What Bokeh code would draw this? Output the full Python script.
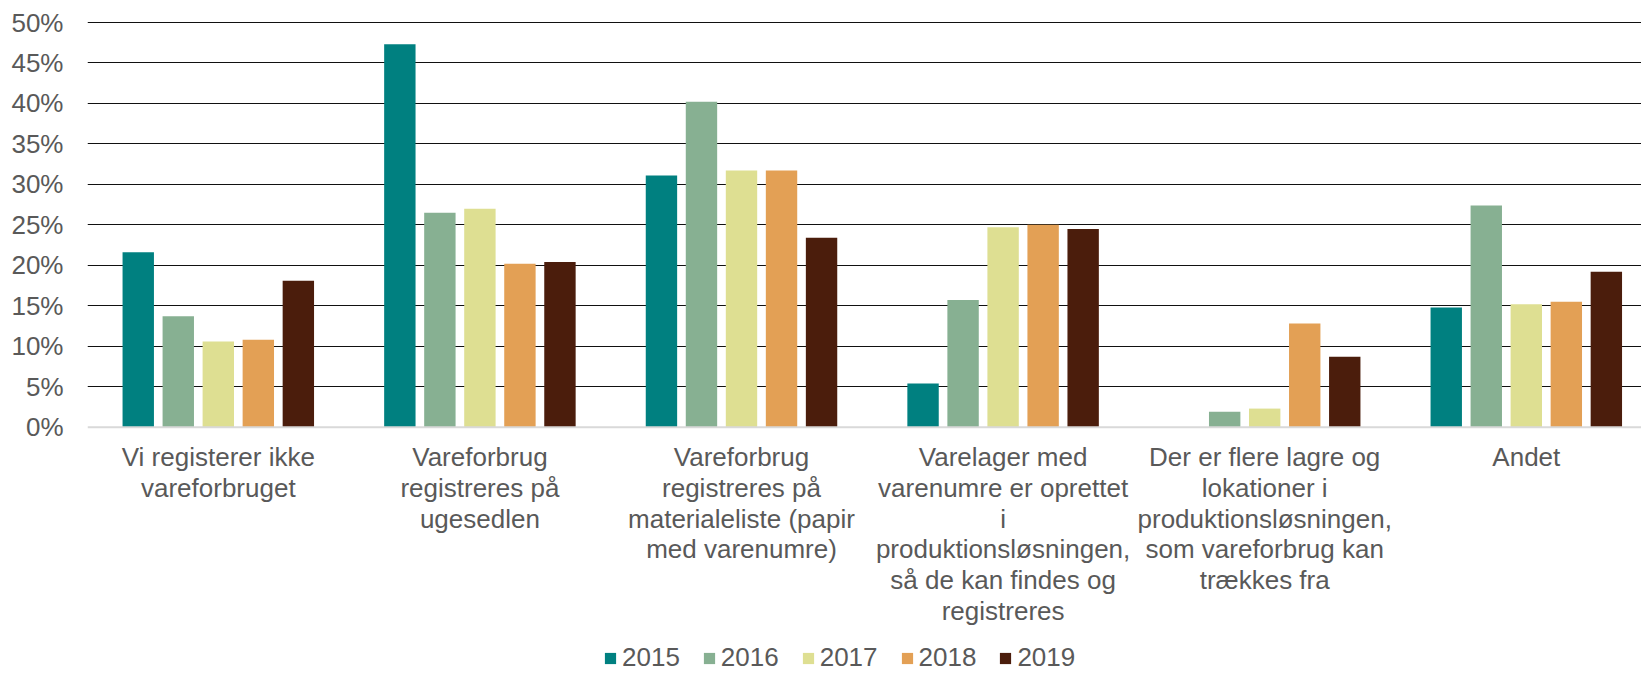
from bokeh.plotting import figure
from bokeh.models import (ColumnDataSource, Range1d, FixedTicker,
                          NumeralTickFormatter, Legend, LegendItem, Span)
from bokeh.core.properties import value
from bokeh.transform import dodge
from bokeh.embed import file_html
from bokeh.resources import INLINE

categories = [
    "Vi registerer ikke vareforbruget",
    "Vareforbrug registreres på ugesedlen",
    "Vareforbrug registreres på materialeliste (papir med varenumre)",
    "Varelager med varenumre er oprettet i produktionsløsningen, så de kan findes og registreres",
    "Der er flere lagre og lokationer i produktionsløsningen, som vareforbrug kan trækkes fra",
    "Andet",
]
# the category labels as wrapped in the chart
label_lines = [
    ["Vi registerer ikke", "vareforbruget"],
    ["Vareforbrug", "registreres på", "ugesedlen"],
    ["Vareforbrug", "registreres på", "materialeliste (papir", "med varenumre)"],
    ["Varelager med", "varenumre er oprettet", "i", "produktionsløsningen,",
     "så de kan findes og", "registreres"],
    ["Der er flere lagre og", "lokationer i", "produktionsløsningen,",
     "som vareforbrug kan", "trækkes fra"],
    ["Andet"],
]
years = ["2015", "2016", "2017", "2018", "2019"]
v2015 = [0.216, 0.473, 0.311, 0.054, 0.000, 0.148]
v2016 = [0.137, 0.265, 0.402, 0.157, 0.019, 0.274]
v2017 = [0.106, 0.270, 0.317, 0.247, 0.023, 0.152]
v2018 = [0.108, 0.202, 0.317, 0.250, 0.128, 0.155]
v2019 = [0.181, 0.204, 0.234, 0.245, 0.087, 0.192]
colors = ["#008080", "#87B092", "#DEDF92", "#E3A055", "#4B1D0C"]
yticks = [0, 0.05, 0.10, 0.15, 0.20, 0.25, 0.30, 0.35, 0.40, 0.45, 0.50]

FONT = "Liberation Sans"
TXT = "#595959"
FS = "26px"

W, H = 1641, 675
TOP, LEFT = 22, 87
PX_PER_UNIT = 809.4   # pixels per 100 %
CAT_PX = 261.6        # pixels per category (chart runs past the right edge)
frame_h = H - (TOP - 1)
y_end = 0.5 + 1.0 / PX_PER_UNIT
y_start = y_end - frame_h / PX_PER_UNIT
x_end = (W - LEFT) / CAT_PX

# category slot centres on the x scale
xpos = [i + 0.5 for i in range(len(categories))]

source = ColumnDataSource(dict(x=xpos, cat=categories, y2015=v2015,
                               y2016=v2016, y2017=v2017, y2018=v2018,
                               y2019=v2019))

p = figure(width=W, height=H, x_range=Range1d(0, x_end),
           y_range=Range1d(y_start, y_end), output_backend="svg",
           toolbar_location=None, min_border_left=LEFT, min_border_right=0,
           min_border_top=TOP - 1, min_border_bottom=0)
p.outline_line_color = None
p.xaxis.visible = False

step = 0.153
width = 0.12
offsets = [-2 * step, -step, 0, step, 2 * step]
items = []
for yr, off, col in zip(years, offsets, colors):
    r = p.vbar(x=dodge("x", off), top="y" + yr, width=width,
               source=source, fill_color=col, line_color=None)
    items.append(LegendItem(label=yr, renderers=[r]))

# baseline
p.add_layout(Span(location=0, dimension="width", line_color="#D9D9D9",
                  line_width=2))

# category labels
lx, ly, lt, loff = [], [], [], []
for xc, lines in zip(xpos, label_lines):
    for i, t in enumerate(lines):
        lx.append(xc)
        ly.append(0)
        lt.append(t)
        loff.append(29.5 + i * 30.9)
p.text(x="x", y="y", text="t", y_offset="off",
       source=ColumnDataSource(dict(x=lx, y=ly, t=lt, off=loff)),
       text_font=value(FONT), text_font_size=FS, text_color=TXT,
       text_align="center", text_baseline="alphabetic")

# y axis
p.yaxis.ticker = FixedTicker(ticks=yticks)
p.yaxis.formatter = NumeralTickFormatter(format="0%")
p.yaxis.axis_line_color = None
p.yaxis.major_tick_line_color = None
p.yaxis.minor_tick_line_color = None
p.yaxis.major_tick_out = 0
p.yaxis.major_tick_in = 0
p.yaxis.major_label_standoff = 24
p.yaxis.major_label_text_font = FONT
p.yaxis.major_label_text_font_size = FS
p.yaxis.major_label_text_color = TXT

p.xgrid.grid_line_color = None
p.ygrid.ticker = FixedTicker(ticks=yticks[1:])
p.ygrid.grid_line_color = "#111111"
p.ygrid.grid_line_width = 1

legend = Legend(items=items, orientation="horizontal", location=(516, 2),
                label_text_font=FONT, label_text_font_size=FS,
                label_text_color=TXT, glyph_width=14, glyph_height=14,
                label_standoff=5, spacing=22, padding=0, margin=0,
                border_line_color=None, background_fill_alpha=0)
p.add_layout(legend, "center")

open("out.html", "w").write(file_html(p, INLINE))
